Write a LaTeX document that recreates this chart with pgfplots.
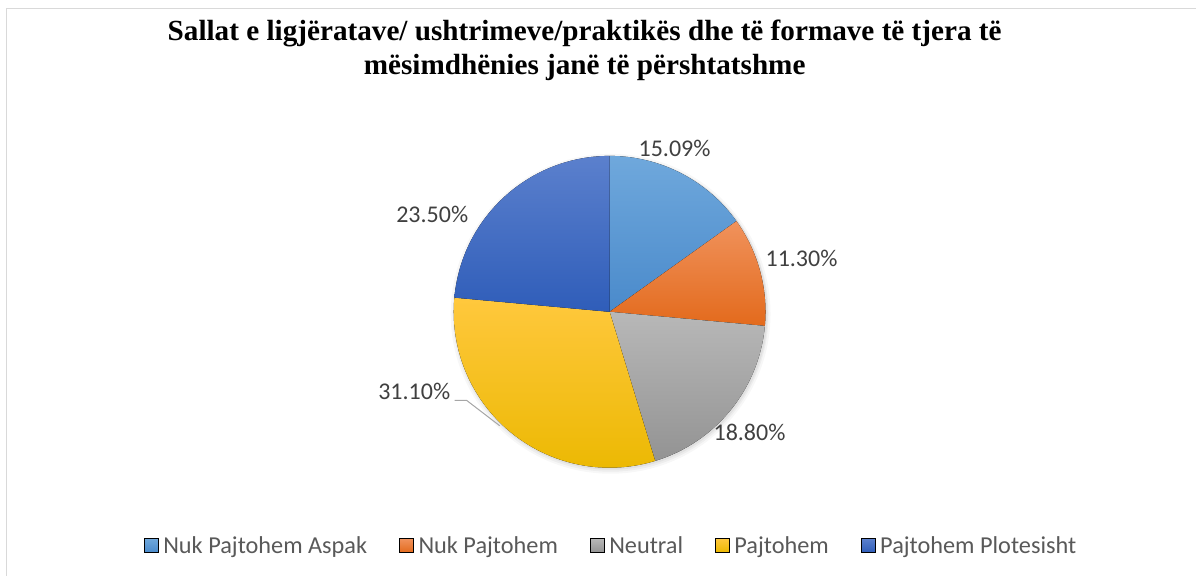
\documentclass[border=0pt]{standalone}
\usepackage{pgfplots}
\pgfplotsset{compat=1.18}
\usepackage{fontspec}
\newfontfamily\carlito{Carlito}
\newfontfamily\tnr{Liberation Serif}

\definecolor{c1top}{HTML}{6FA8DC}
\definecolor{c1bot}{HTML}{4A8ACB}
\definecolor{c2top}{HTML}{F0925C}
\definecolor{c2bot}{HTML}{E36A1C}
\definecolor{c3top}{HTML}{B8B8B8}
\definecolor{c3bot}{HTML}{939393}
\definecolor{c4top}{HTML}{FFC83D}
\definecolor{c4bot}{HTML}{EBB800}
\definecolor{c5top}{HTML}{5B80CD}
\definecolor{c5bot}{HTML}{2F5DB9}
\definecolor{labtext}{HTML}{404040}
\definecolor{legtext}{HTML}{595959}
\definecolor{framegray}{HTML}{D9D9D9}
\definecolor{leadgray}{HTML}{A6A6A6}

% shares in percent, clockwise from 12 o'clock
\def\piedata{15.09/c1,11.30/c2,18.80/c3,31.10/c4,23.50/c5}
\def\pietotal{99.79}

\begin{document}
\begin{tikzpicture}
\begin{axis}[
  scale only axis, width=1197pt, height=576pt,
  xmin=0, xmax=1197, ymin=0, ymax=576,
  hide axis, clip=false,
  legend columns=5,
  legend style={at={(0.1203,0.0521)}, anchor=west, draw=none, fill=none,
    inner sep=0pt, outer sep=0pt,
    nodes={inner sep=0pt, text=legtext, font=\carlito\fontsize{24.3}{29}\selectfont},
    /tikz/every odd column/.append style={column sep=5pt},
    /tikz/every even column/.append style={column sep=32pt}},
]
% keep the whole canvas in the bounding box
\path (axis cs:0,0) (axis cs:1197,576);
% chart frame
\draw[framegray, line width=1.5pt] (axis cs:6.5,0) -- (axis cs:6.5,567.5) -- (axis cs:1197,567.5);

% soft shadow
\fill[black, opacity=0.03] (axis cs:611,262) circle[radius=160pt];
\fill[black, opacity=0.04] (axis cs:611,262) circle[radius=158pt];
\fill[black, opacity=0.05] (axis cs:611,263) circle[radius=157pt];

% slices
\xdef\cum{0}
\foreach \v/\c in \piedata {
  \pgfmathsetmacro\a{90-\cum/\pietotal*360}
  \pgfmathsetmacro\b{90-(\cum+\v)/\pietotal*360}
  \edef\slice{\noexpand\fill[top color=\c top, bottom color=\c bot]
    (axis cs:610,264) -- ++(\a:156pt) arc[start angle=\a, end angle=\b, radius=156pt] -- cycle;}
  \slice
  \pgfmathsetmacro\n{\cum+\v}
  \xdef\cum{\n}
}

% data labels
\tikzset{lab/.style={anchor=base, text=labtext, font=\carlito\fontsize{24}{28}\selectfont, inner sep=0pt}}
\node[lab] at (axis cs:675,419) {15.09\%};
\node[lab] at (axis cs:802,309) {11.30\%};
\node[lab] at (axis cs:750,135) {18.80\%};
\node[lab] at (axis cs:414.5,176) {31.10\%};
\node[lab] at (axis cs:432.5,353) {23.50\%};
\draw[leadgray, line width=1pt] (axis cs:455,175.3) -- (axis cs:467,175.3) -- (axis cs:500,150);

% title
\node[anchor=base, font=\tnr\bfseries\fontsize{29.2}{34}\selectfont] at (axis cs:585,535)
  {Sallat e ligjëratave/ ushtrimeve/praktikës dhe të formave të tjera të};
\node[anchor=base, font=\tnr\bfseries\fontsize{29.2}{34}\selectfont] at (axis cs:585,501)
  {mësimdhënies janë të përshtatshme};

% legend
\addlegendimage{legend image code/.code={\fill[top color=c1top,bottom color=c1bot] (0pt,-7pt) rectangle (14pt,7pt);}}
\addlegendentry{Nuk Pajtohem Aspak}
\addlegendimage{legend image code/.code={\fill[top color=c2top,bottom color=c2bot] (0pt,-7pt) rectangle (14pt,7pt);}}
\addlegendentry{Nuk Pajtohem}
\addlegendimage{legend image code/.code={\fill[top color=c3top,bottom color=c3bot] (0pt,-7pt) rectangle (14pt,7pt);}}
\addlegendentry{Neutral}
\addlegendimage{legend image code/.code={\fill[top color=c4top,bottom color=c4bot] (0pt,-7pt) rectangle (14pt,7pt);}}
\addlegendentry{Pajtohem}
\addlegendimage{legend image code/.code={\fill[top color=c5top,bottom color=c5bot] (0pt,-7pt) rectangle (14pt,7pt);}}
\addlegendentry{Pajtohem Plotesisht}
\end{axis}
\end{tikzpicture}
\end{document}
